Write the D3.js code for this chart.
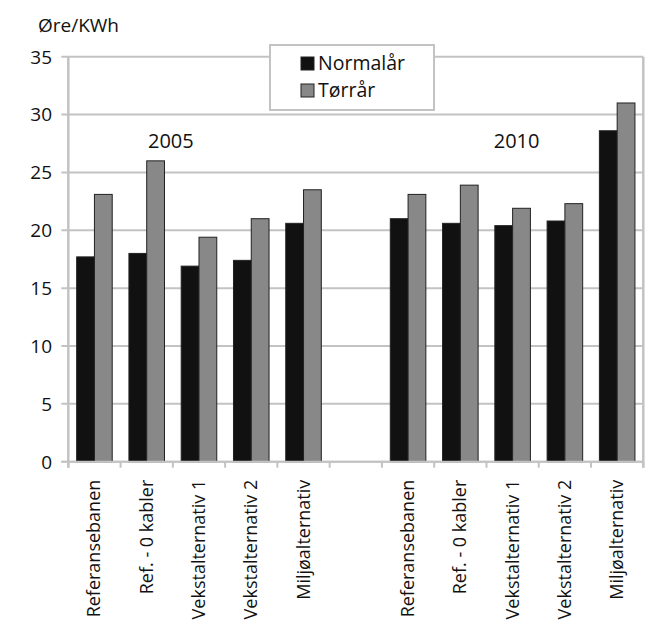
<!DOCTYPE html>
<html>
<head>
<meta charset="utf-8">
<script src="https://cdn.jsdelivr.net/npm/d3@7"></script>
<style>
  html, body { margin: 0; padding: 0; background: #fff; }
  svg { display: block; font-family: "Open Sans", "Noto Sans", sans-serif; }
</style>
</head>
<body>
<svg id="chart" width="661" height="635"></svg>
<script>
// Power price per scenario, øre/kWh
const years = ["2005", "2010"];
const categories = ["Referansebanen", "Ref. - 0 kabler", "Vekstalternativ 1", "Vekstalternativ 2", "Miljøalternativ"];
const seriesNames = ["Normalår", "Tørrår"];
const normal2005 = [17.7, 18.0, 16.9, 17.4, 20.6];
const dry2005    = [23.1, 26.0, 19.4, 21.0, 23.5];
const normal2010 = [21.0, 20.6, 20.4, 20.8, 28.6];
const dry2010    = [23.1, 23.9, 21.9, 22.3, 31.0];
const yTicks = [0, 5, 10, 15, 20, 25, 30, 35];

const colors = { "Normalår": "#111111", "Tørrår": "#888888" };
const gridColor = "#c3c3c3";

// One slot per scenario and year, with an empty slot between the two years
const rows = [];
categories.forEach((c, i) => rows.push({ key: "2005|" + i, year: "2005", label: c, values: [normal2005[i], dry2005[i]] }));
rows.push({ key: "gap", year: null, label: "", values: null });
categories.forEach((c, i) => rows.push({ key: "2010|" + i, year: "2010", label: c, values: [normal2010[i], dry2010[i]] }));

const svg = d3.select("#chart");
const plotLeft = 68.3, plotRight = 643.3, plotTop = 56.7, plotBottom = 461.7;

const x = d3.scaleBand().domain(rows.map(r => r.key)).range([plotLeft, plotRight]).padding(0);
const xInner = d3.scaleBand().domain(seriesNames).range([0, x.bandwidth()]).paddingInner(0).paddingOuter(0.47);
const y = d3.scaleLinear().domain([0, 35]).range([plotBottom, plotTop]);

// Horizontal gridlines with short ticks to the left of the axis
svg.append("g").selectAll("line").data(yTicks).join("line")
  .attr("x1", plotLeft - 7).attr("x2", plotRight)
  .attr("y1", d => y(d)).attr("y2", d => y(d))
  .attr("stroke", gridColor).attr("stroke-width", 2);

// Left axis and right border
svg.append("line").attr("x1", plotLeft).attr("x2", plotLeft).attr("y1", plotTop).attr("y2", plotBottom + 6)
  .attr("stroke", gridColor).attr("stroke-width", 2.5);
svg.append("line").attr("x1", plotRight).attr("x2", plotRight).attr("y1", plotTop).attr("y2", plotBottom + 6)
  .attr("stroke", gridColor).attr("stroke-width", 2.5);

// Category boundary ticks below the axis
const boundaries = rows.map(r => x(r.key)).concat([plotRight]);
svg.append("g").selectAll("line").data(boundaries).join("line")
  .attr("x1", d => d).attr("x2", d => d)
  .attr("y1", plotBottom).attr("y2", plotBottom + 6)
  .attr("stroke", gridColor).attr("stroke-width", 2);

// Y tick labels
svg.append("g").selectAll("text").data(yTicks).join("text")
  .attr("x", 52).attr("y", d => y(d))
  .attr("dy", "0.36em")
  .attr("text-anchor", "end")
  .attr("font-size", 19).attr("fill", "#111")
  .text(d => d);

// Bars
const groups = svg.append("g").selectAll("g").data(rows.filter(r => r.values)).join("g")
  .attr("transform", d => `translate(${x(d.key)},0)`);
groups.selectAll("rect").data(d => d.values.map((v, i) => ({ name: seriesNames[i], value: v }))).join("rect")
  .attr("x", d => xInner(d.name))
  .attr("width", xInner.bandwidth())
  .attr("y", d => y(d.value))
  .attr("height", d => y(0) - y(d.value))
  .attr("fill", d => colors[d.name])
  .attr("stroke", "#222").attr("stroke-width", 1);

// Bottom axis line
svg.append("line").attr("x1", plotLeft - 7).attr("x2", plotRight).attr("y1", plotBottom).attr("y2", plotBottom)
  .attr("stroke", gridColor).attr("stroke-width", 2);

// Rotated category labels
svg.append("g").selectAll("text").data(rows.filter(r => r.values)).join("text")
  .attr("transform", d => `translate(${x(d.key) + x.bandwidth() / 2 + 6},${plotBottom + 18}) rotate(-90)`)
  .attr("text-anchor", "end")
  .attr("font-size", 18).attr("fill", "#111")
  .text(d => d.label);

// Year labels above each group
svg.append("text").attr("x", x("2005|2") - 2).attr("y", 148)
  .attr("text-anchor", "middle").attr("font-size", 20).attr("fill", "#111").text(years[0]);
svg.append("text").attr("x", x("2010|2") + x.bandwidth() / 2 + 4).attr("y", 148)
  .attr("text-anchor", "middle").attr("font-size", 20).attr("fill", "#111").text(years[1]);

// Unit label
svg.append("text").attr("x", 38).attr("y", 32).attr("font-size", 19).attr("fill", "#111").text("Øre/KWh");

// Legend
const legend = svg.append("g");
legend.append("rect").attr("x", 270).attr("y", 45).attr("width", 164).attr("height", 65)
  .attr("fill", "#fff").attr("stroke", gridColor).attr("stroke-width", 2);
const items = legend.selectAll("g").data(seriesNames).join("g")
  .attr("transform", (d, i) => `translate(301,${57 + i * 27})`);
items.append("rect").attr("width", 13).attr("height", 13)
  .attr("fill", d => colors[d]).attr("stroke", "#222").attr("stroke-width", 1);
items.append("text").attr("x", 17).attr("y", 12.5).attr("font-size", 19.5).attr("fill", "#111").text(d => d);
</script>
</body>
</html>
